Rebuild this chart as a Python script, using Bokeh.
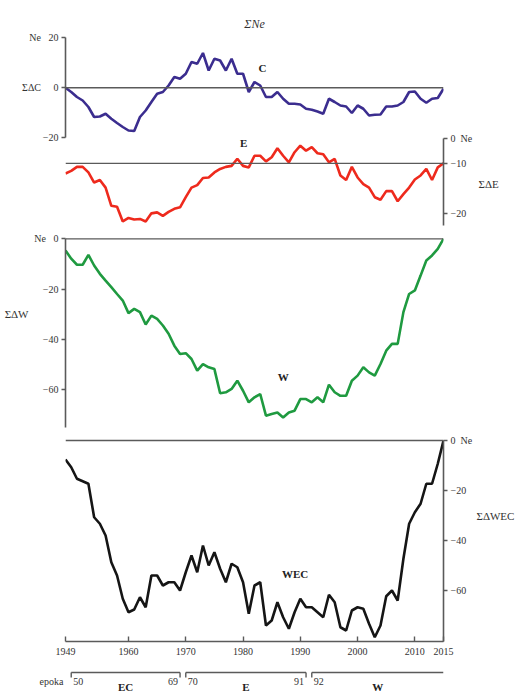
from bokeh.plotting import figure
from bokeh.models import (Range1d, LinearAxis, FixedTicker, Span, Label, ColumnDataSource,
                          Grid)
from bokeh.layouts import column
from bokeh.embed import file_html
from bokeh.resources import INLINE
from bokeh.core.properties import value

# ---------------- data ----------------
years = list(range(1949, 2016))

c_sum = [0, -1.7, -3.7, -5.1, -7.7, -11.7, -11.5, -10.4, -12.4, -14.1, -15.7, -17.1, -17.3,
         -11.7, -9.1, -5.7, -2.4, -1.7, 0.9, 4.3, 3.6, 5.6, 10.3, 9.6, 13.9, 6.9, 11.6, 10.9,
         6.9, 11.6, 5.6, 5.6, -1.7, 2.3, 0.9, -3.7, -3.7, -1.7, -4.4, -6.4, -6.4, -6.7, -8.4,
         -8.8, -9.5, -10.4, -4.4, -5.7, -7.1, -7.5, -10.1, -7.1, -8.4, -11.1, -10.8, -10.7,
         -7.5, -7.5, -7.1, -5.7, -1.7, -1.5, -4.4, -6.0, -4.4, -4.1, -0.4]

e_sum = [-12.0, -11.5, -10.7, -10.7, -11.8, -13.8, -13.3, -14.8, -18.4, -18.6, -21.5, -20.8,
         -21.1, -21.0, -21.5, -19.9, -19.7, -20.4, -19.6, -19.0, -18.7, -16.7, -14.8, -14.3,
         -12.9, -12.8, -11.8, -11.1, -10.7, -10.5, -9.1, -10.5, -10.8, -8.5, -8.5, -9.6, -8.8,
         -7.0, -8.5, -9.8, -7.8, -6.5, -7.5, -6.8, -8.0, -8.2, -9.8, -9.1, -12.4, -13.3, -10.7,
         -12.8, -14.1, -14.8, -16.7, -17.2, -15.5, -15.5, -17.5, -16.1, -14.8, -13.2, -12.4,
         -11.1, -13.3, -10.8, -10.0]

w_sum = [-4.6, -7.9, -10.3, -10.3, -6.4, -10.6, -13.9, -16.6, -19.2, -21.9, -24.5, -29.5,
         -27.8, -29.1, -34.0, -30.5, -31.8, -34.4, -37.7, -42.4, -45.7, -45.4, -47.7, -52.3,
         -49.7, -51.0, -51.7, -61.3, -60.9, -59.6, -56.3, -60.3, -64.9, -62.9, -61.6, -70.2,
         -69.5, -68.9, -70.9, -68.9, -68.2, -63.6, -63.6, -64.9, -62.9, -64.9, -57.9, -60.9,
         -62.3, -62.3, -56.3, -54.3, -51.0, -53.0, -54.3, -49.7, -44.4, -41.7, -41.7, -29.1,
         -21.9, -20.5, -14.6, -8.6, -6.6, -4.0, 0.0]

wec_sum = [-7.6, -10.7, -15.3, -16.3, -17.3, -30.7, -33.3, -38.0, -48.7, -54.0, -63.3, -68.7,
           -67.6, -62.7, -66.7, -54.0, -54.0, -58.0, -56.7, -56.7, -60.0, -52.7, -46.0, -52.7,
           -42.0, -50.0, -44.7, -51.3, -56.7, -49.3, -50.7, -56.7, -69.3, -58.0, -56.7, -74.0,
           -72.0, -64.7, -70.7, -75.3, -68.7, -63.3, -66.7, -66.7, -68.7, -70.7, -61.7, -64.7,
           -74.7, -76.0, -68.0, -66.7, -67.3, -73.3, -78.7, -74.0, -62.3, -60.0, -64.0, -47.3,
           -33.3, -28.7, -25.3, -17.3, -17.3, -9.3, 0.0]

x_ticks = [1949, 1960, 1970, 1980, 1990, 2000, 2010, 2015]
c_ticks = [-20, 0, 20]
e_ticks = [-5, -10, -20]          # top tick of the E axis is printed as "0" in the original
w_ticks = [0, -20, -40, -60]
wec_ticks = [0, -20, -40, -60]

epoch_start = [1950, 1970, 1992]
epoch_end = [1969, 1991, 2015]
epoch_name = ["EC", "E", "W"]
epoch_start_lbl = ["50", "70", "92"]
epoch_end_lbl = ["69", "91"]

# ---------------- style / layout ----------------
SERIF = "Liberation Serif"
AXC = "#5a5a5a"
C_COL = "#3b2d8f"
E_COL = "#ee2a1d"
W_COL = "#1f9a40"
WEC_COL = "#151515"
LW = 2.6
NB = "\u00a0"

FIG_W = 520
BL, BR = 65, 77                     # left / right borders -> frame 65..443 px

x_range = Range1d(1949, 2015)
src = ColumnDataSource(dict(year=years, c=c_sum, e=e_sum, w=w_sum, wec=wec_sum))


def make_fig(height, y_range, top, bottom):
    p = figure(width=FIG_W, height=height, x_range=x_range, y_range=y_range,
               output_backend="svg", toolbar_location=None,
               x_axis_location=None, y_axis_location=None,
               min_border_left=BL, min_border_right=BR,
               min_border_top=top, min_border_bottom=bottom)
    p.center = [r for r in p.center if not isinstance(r, Grid)]
    p.outline_line_color = None
    p.background_fill_color = "white"
    p.border_fill_color = "white"
    return p


def style_axis(ax):
    ax.axis_line_color = AXC
    ax.axis_line_width = 1.6
    ax.major_tick_line_color = AXC
    ax.major_tick_line_width = 1.4
    ax.major_tick_out = 4
    ax.major_tick_in = 0
    ax.minor_tick_out = 0
    ax.minor_tick_in = 0
    ax.major_label_text_font = SERIF
    ax.major_label_text_font_size = "10px"
    ax.major_label_text_color = "#333333"
    ax.major_label_standoff = 3
    return ax


def text_axis(p, side, at, text, rname="default", size="11px", standoff=3):
    """An axis without line or ticks, used only to print a side label outside the frame."""
    ax = LinearAxis(y_range_name=rname, ticker=FixedTicker(ticks=[at]),
                    major_label_overrides={at: text})
    ax.axis_line_color = None
    ax.major_tick_line_color = None
    ax.minor_tick_line_color = None
    ax.major_tick_out = 0
    ax.major_tick_in = 0
    ax.minor_tick_out = 0
    ax.minor_tick_in = 0
    ax.major_label_standoff = standoff
    ax.major_label_text_font = SERIF
    ax.major_label_text_font_size = size
    ax.major_label_text_color = "#333333"
    p.add_layout(ax, side)
    return ax


def label(p, x, y, text, rname="default"):
    p.add_layout(Label(x=x, y=y, text=text, text_font=SERIF, text_font_size="11px",
                       text_font_style="bold", text_align="center", text_baseline="middle",
                       text_color="#222222", y_range_name=rname))


# ---------------- panel C + E ----------------
pa = make_fig(228, Range1d(-55.5, 21.7), 33, 2)
pa.extra_y_ranges = {"e": Range1d(-22.5, 15.7)}
pa.title.text = "ΣNe"
pa.title.align = "center"
pa.title.text_font = SERIF
pa.title.text_font_style = "italic"
pa.title.text_font_size = "12px"
pa.title.text_color = "#333333"
pa.title.standoff = 6

ax_c = style_axis(LinearAxis(bounds=(-20, 20), ticker=FixedTicker(ticks=c_ticks),
                             major_label_overrides={20: "Ne" + NB * 3 + "20",
                                                    0: "ΣΔC" + NB * 5 + "0"}))
pa.add_layout(ax_c, "left")
ax_e = style_axis(LinearAxis(y_range_name="e", bounds=(-22.3, -5),
                             ticker=FixedTicker(ticks=e_ticks),
                             major_label_overrides={-5: "0" + NB * 2 + "Ne"}))
pa.add_layout(ax_e, "right")
text_axis(pa, "right", -14, "ΣΔE", rname="e")

pa.add_layout(Span(location=0, dimension="width", line_color=AXC, line_width=1.3))
pa.add_layout(Span(location=-10, dimension="width", line_color=AXC, line_width=1.3,
                   y_range_name="e"))

pa.line("year", "c", source=src, line_color=C_COL, line_width=LW)
pa.line("year", "e", source=src, line_color=E_COL, line_width=LW, y_range_name="e")

label(pa, 1983.4, 8.1, "C")
label(pa, 1980.1, -5.9, "E", rname="e")

# ---------------- panel W + WEC ----------------
pb = make_fig(433, Range1d(-159.8, 0.91), 8, 20)
pb.extra_y_ranges = {"wec": Range1d(-80.4, 81.6)}

ax_w = style_axis(LinearAxis(bounds=(-75, 0), ticker=FixedTicker(ticks=w_ticks),
                             major_label_overrides={0: "Ne" + NB * 3 + "0"}))
pb.add_layout(ax_w, "left")
text_axis(pb, "left", -30, "ΣΔW")
ax_wec = style_axis(LinearAxis(y_range_name="wec", bounds=(-80.4, 0),
                               ticker=FixedTicker(ticks=wec_ticks),
                               major_label_overrides={0: "0" + NB * 2 + "Ne"}))
pb.add_layout(ax_wec, "right")
text_axis(pb, "right", -30, "ΣΔWEC", rname="wec", standoff=1)
ax_x = style_axis(LinearAxis(ticker=FixedTicker(ticks=x_ticks)))
ax_x.major_tick_out = 0
ax_x.major_tick_in = 5
ax_x.major_label_standoff = 6
pb.add_layout(ax_x, "below")

pb.add_layout(Span(location=0, dimension="width", line_color=AXC, line_width=1.3))
pb.add_layout(Span(location=0, dimension="width", line_color=AXC, line_width=1.3,
                   y_range_name="wec"))

pb.line("year", "w", source=src, line_color=W_COL, line_width=LW)
pb.line("year", "wec", source=src, line_color=WEC_COL, line_width=LW, y_range_name="wec")

label(pb, 1987.0, -55, "W")
label(pb, 1989.1, -53.2, "WEC", rname="wec")

# ---------------- epochs ----------------
pc = make_fig(30, Range1d(0, 30), 0, 0)
esrc = ColumnDataSource(dict(x0=epoch_start, x1=epoch_end, name=epoch_name,
                             mid=[(s + e) / 2 for s, e in zip(epoch_start, epoch_end)],
                             slbl=epoch_start_lbl))
pc.segment(x0="x0", y0=19, x1="x1", y1=19, source=esrc, line_color=AXC, line_width=1.4)
tick_x = epoch_start + epoch_end[:-1]
pc.segment(x0=tick_x, y0=[19] * len(tick_x), x1=tick_x, y1=[14] * len(tick_x),
           line_color=AXC, line_width=1.4)
pc.text(x="x0", y=10, text="slbl", source=esrc, x_offset=2, text_align="left",
        text_baseline="middle", text_font=value(SERIF), text_font_size="10px",
        text_color="#333333")
pc.text(x=epoch_end[:-1], y=[10] * len(epoch_end_lbl), text=epoch_end_lbl, x_offset=-2,
        text_align="right", text_baseline="middle", text_font=value(SERIF),
        text_font_size="10px", text_color="#333333")
pc.text(x="mid", y=5, text="name", source=esrc, text_align="center",
        text_baseline="middle", text_font=value(SERIF), text_font_size="11px",
        text_font_style="bold", text_color="#222222")
text_axis(pc, "left", 10, "epoka", size="10px", standoff=2)

layout = column(pa, pb, pc, spacing=0)
open("out.html", "w").write(file_html(layout, INLINE))
